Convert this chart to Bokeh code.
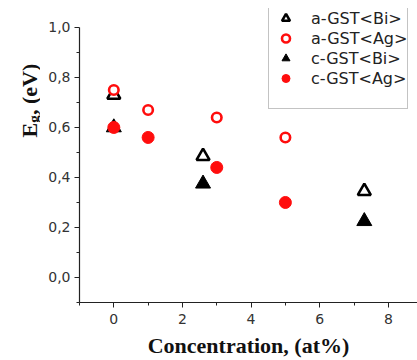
from bokeh.plotting import figure
from bokeh.layouts import row
from bokeh.models import (FixedTicker, CustomJSTickFormatter, Legend, LegendItem,
                          Label, Range1d)
from bokeh.embed import file_html
from bokeh.resources import INLINE

# ---- data ----
conc_a_bi = [0, 2.6, 7.3]
eg_a_bi = [0.73, 0.485, 0.345]
conc_a_ag = [0, 1, 3, 5]
eg_a_ag = [0.75, 0.67, 0.64, 0.56]
conc_c_bi = [0, 2.6, 7.3]
eg_c_bi = [0.60, 0.375, 0.225]
conc_c_ag = [0, 1, 3, 5]
eg_c_ag = [0.60, 0.56, 0.44, 0.30]

series_names = ["a-GST<Bi>", "a-GST<Ag>", "c-GST<Bi>", "c-GST<Ag>"]
x_ticks = [0, 2, 4, 6, 8]
x_minor = [-1, 1, 3, 5, 7]
y_ticks = [0.0, 0.2, 0.4, 0.6, 0.8, 1.0]
y_minor = [-0.1, 0.1, 0.3, 0.5, 0.7, 0.9]
x_title = "Concentration, (at%)"
y_title_parts = ["E", "g", ", (eV)"]

RED = "#ff0d0d"
BLACK = "#000000"
AXIS = "#222222"
TITLE_FONT = "Liberation Serif"
TICK_FONT = "DejaVu Sans"

LBL_W = 40
H = 360

# ---- narrow figure holding the y-axis title (with subscript) ----
fl = figure(width=LBL_W, height=H, output_backend="svg", toolbar_location=None,
            x_axis_location=None, y_axis_location=None,
            min_border=0, min_border_left=0, min_border_right=0,
            min_border_top=0, min_border_bottom=0,
            x_range=Range1d(0, 1), y_range=Range1d(0, 1))
fl.outline_line_color = None
fl.xgrid.visible = False
fl.ygrid.visible = False
ang = 1.5707963
fl.add_layout(Label(x=28.5, y=165, x_units="screen", y_units="screen", angle=ang,
                    text=y_title_parts[0], text_align="left", text_baseline="alphabetic",
                    text_font=TITLE_FONT, text_font_style="bold",
                    text_font_size="22px", text_color="#111111"))
fl.add_layout(Label(x=33, y=179.7, x_units="screen", y_units="screen", angle=ang,
                    text=y_title_parts[1], text_align="left", text_baseline="alphabetic",
                    text_font=TITLE_FONT, text_font_style="bold",
                    text_font_size="15px", text_color="#111111"))
fl.add_layout(Label(x=28.5, y=187.5, x_units="screen", y_units="screen", angle=ang,
                    text=y_title_parts[2], text_align="left", text_baseline="alphabetic",
                    text_font=TITLE_FONT, text_font_style="bold",
                    text_font_size="22px", text_color="#111111"))

# ---- main chart ----
p = figure(width=417 - LBL_W, height=H, output_backend="svg", toolbar_location=None,
           x_range=Range1d(-1, 8.85), y_range=Range1d(-0.1, 1.0757),
           min_border_left=79 - LBL_W, min_border_right=0, min_border_top=8,
           min_border_bottom=57)
p.outline_line_color = None
p.xgrid.visible = False
p.ygrid.visible = False
p.background_fill_color = "white"
p.border_fill_color = "white"

r_abi = p.scatter(conc_a_bi, eg_a_bi, marker="triangle", size=13,
                  fill_color=None, line_color=BLACK, line_width=2.6)
r_cbi = p.scatter(conc_c_bi, eg_c_bi, marker="triangle", size=15,
                  fill_color=BLACK, line_color=BLACK, line_width=1)
r_aag = p.scatter(conc_a_ag, eg_a_ag, marker="circle", size=9.5,
                  fill_color="white", line_color=RED, line_width=2.6)
r_cag = p.scatter(conc_c_ag, eg_c_ag, marker="circle", size=12,
                  fill_color=RED, line_color=RED, line_width=1)
r_dummy = p.scatter([conc_c_ag[0]], [eg_c_ag[0]], marker="circle", size=1,
                    fill_alpha=0, line_alpha=0)

for ax in (p.xaxis[0], p.yaxis[0]):
    ax.axis_line_color = AXIS
    ax.axis_line_width = 1.2
    ax.major_tick_line_color = AXIS
    ax.minor_tick_line_color = AXIS
    ax.major_tick_in = 0
    ax.major_tick_out = 5
    ax.minor_tick_in = 0
    ax.minor_tick_out = 3
    ax.major_label_text_font = TICK_FONT
    ax.major_label_text_font_size = "14px"
    ax.major_label_text_color = "#333333"

p.yaxis.bounds = (-0.1, 1.0)
p.xaxis.ticker = FixedTicker(ticks=x_ticks, minor_ticks=x_minor)
p.yaxis.ticker = FixedTicker(ticks=y_ticks, minor_ticks=y_minor)
p.yaxis.formatter = CustomJSTickFormatter(code="return tick.toFixed(1).replace('.', ',');")
p.xaxis.major_label_standoff = 6
p.yaxis.major_label_standoff = 4

p.xaxis.axis_label = x_title
p.xaxis.axis_label_text_font = TITLE_FONT
p.xaxis.axis_label_text_font_style = "bold"
p.xaxis.axis_label_text_font_size = "22px"
p.xaxis.axis_label_text_color = "#111111"
p.xaxis.axis_label_standoff = 6

legend = Legend(items=[
    LegendItem(label=series_names[0], renderers=[r_abi]),
    LegendItem(label=series_names[1], renderers=[r_aag]),
    LegendItem(label=series_names[2], renderers=[r_cbi]),
    LegendItem(label=series_names[3], renderers=[r_cag]),
    LegendItem(label=" ", renderers=[r_dummy]),
], location=(189, 193))
legend.border_line_color = "#888888"
legend.border_line_width = 1
legend.background_fill_color = "white"
legend.background_fill_alpha = 1
legend.padding = 0
legend.margin = 0
legend.spacing = 0
legend.glyph_width = 33
legend.glyph_height = 20
legend.label_height = 20
legend.label_standoff = 9
legend.label_text_font = TICK_FONT
legend.label_text_font_size = "16px"
legend.label_text_color = "#222222"
legend.label_text_baseline = "middle"
p.add_layout(legend, "center")

layout = row(fl, p)
open("out.html", "w").write(file_html(layout, INLINE))
